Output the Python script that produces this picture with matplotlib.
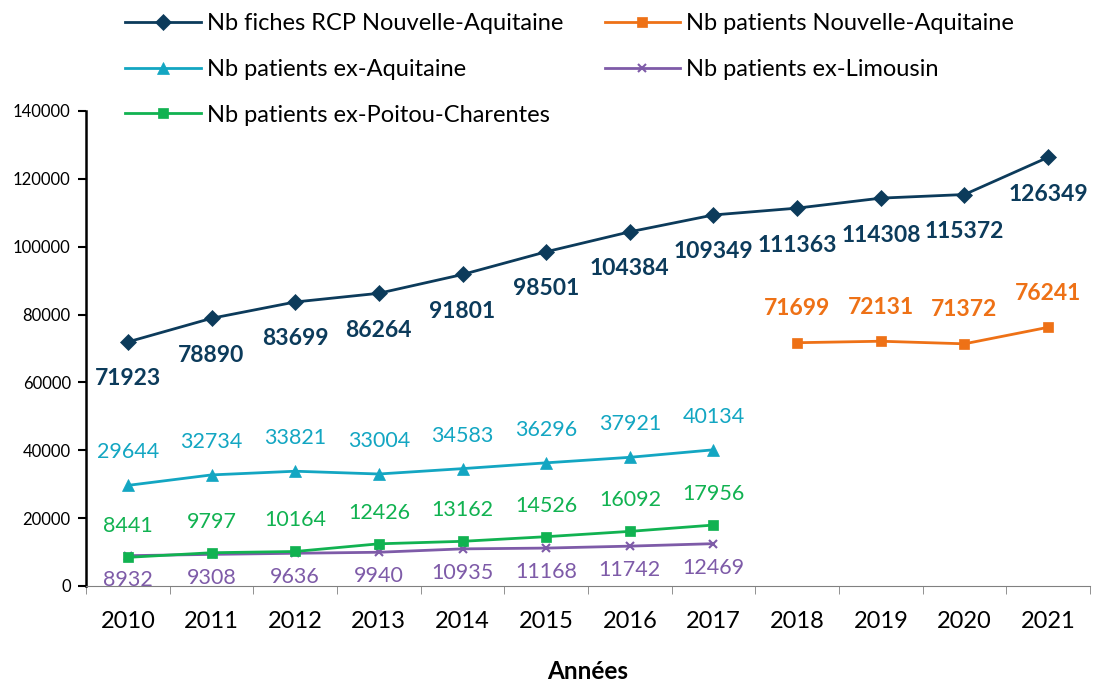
import numpy as np
import matplotlib.pyplot as plt

plt.rcParams['font.family'] = ['Lato', 'DejaVu Sans']

years = ['2010', '2011', '2012', '2013', '2014', '2015', '2016', '2017',
         '2018', '2019', '2020', '2021']
fiches_na = [71923, 78890, 83699, 86264, 91801, 98501, 104384, 109349,
             111363, 114308, 115372, 126349]
patients_na = [None] * 8 + [71699, 72131, 71372, 76241]
patients_aq = [29644, 32734, 33821, 33004, 34583, 36296, 37921, 40134]
patients_li = [8932, 9308, 9636, 9940, 10935, 11168, 11742, 12469]
patients_pc = [8441, 9797, 10164, 12426, 13162, 14526, 16092, 17956]

navy = '#0C3B5B'
orange = '#EE7116'
cyan = '#13A6C2'
purple = '#7E5BA8'
green = '#11B251'

fig = plt.figure(figsize=(10.96, 6.82), dpi=100)
ax = fig.add_axes([0.0785, 0.1408, 0.916, 0.6965])

x = np.arange(len(years))

def series(vals, color, marker, ms, label, dy, bold, fs):
    xs = [i for i, v in enumerate(vals) if v is not None]
    ys = [v for v in vals if v is not None]
    line, = ax.plot(xs, ys, color=color, marker=marker, ms=ms, lw=2, label=label,
                    mew=1.5 if marker == 'x' else 0.5, mec=color)
    for xi, yi in zip(xs, ys):
        ax.annotate(str(yi), (xi, yi), xytext=(0, dy), textcoords='offset pixels',
                    ha='center', va='center', color=color, fontsize=fs,
                    fontweight='bold' if bold else 'normal')
    return line

h1 = series(fiches_na, navy, 'D', 8, 'Nb fiches RCP Nouvelle-Aquitaine', -37, True, 16.5)
h2 = series(patients_na, orange, 's', 7, 'Nb patients Nouvelle-Aquitaine', 34, True, 16.5)
h3 = series(patients_aq, cyan, '^', 8, 'Nb patients ex-Aquitaine', 33, False, 15.5)
h4 = series(patients_li, purple, 'x', 6, 'Nb patients ex-Limousin', -24, False, 15.5)
h5 = series(patients_pc, green, 's', 7, 'Nb patients ex-Poitou-Charentes', 31, False, 15.5)

ax.set_xlim(-0.5, len(years) - 0.5)
ax.set_ylim(0, 140000)
ax.set_yticks(np.arange(0, 140001, 20000))
ax.set_xticks(x)
ax.set_xticklabels(years, fontsize=17)
ax.set_xticks(np.arange(-0.5, len(years), 1), minor=True)
ax.tick_params(axis='x', which='major', length=0, pad=18)
ax.tick_params(axis='x', which='minor', length=6, color='#808080')
ax.tick_params(axis='y', labelsize=12, length=6, width=1.5, pad=5)
for s in ['top', 'right']:
    ax.spines[s].set_visible(False)
ax.spines['left'].set_linewidth(1.8)
ax.spines['bottom'].set_color('#808080')
ax.set_xlabel('Années', fontsize=17.5, fontweight='bold', labelpad=20)

# row-major order like the original legend
handles = [h1, h3, h5, h2, h4]
fig.legend(handles, [h.get_label() for h in handles], ncol=2, loc='upper left',
           bbox_to_anchor=(0.095, 1.012), frameon=False, fontsize=17,
           handlelength=3.2, handletextpad=0.25, columnspacing=1.75, labelspacing=1.05)

fig.savefig('out.png', dpi=100)
